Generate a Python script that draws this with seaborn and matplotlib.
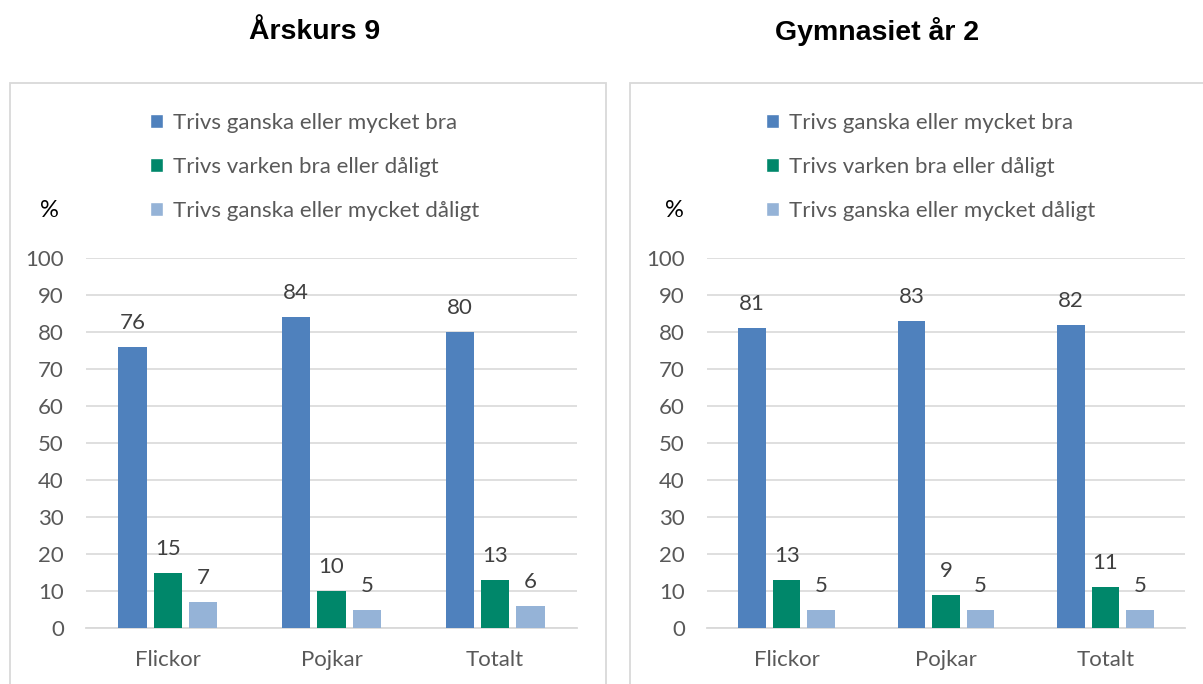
import matplotlib.pyplot as plt
import pandas as pd
import seaborn as sns
from matplotlib.patches import Patch, Rectangle

# Data
grupper = ["Flickor", "Pojkar", "Totalt"]
svar = [
    "Trivs ganska eller mycket bra",
    "Trivs varken bra eller dåligt",
    "Trivs ganska eller mycket dåligt",
]
farger = ["#4F81BD", "#00876A", "#95B3D7"]

# Årskurs 9
ak9_bra = [76, 84, 80]
ak9_varken = [15, 10, 13]
ak9_daligt = [7, 5, 6]

# Gymnasiet år 2
gy2_bra = [81, 83, 82]
gy2_varken = [13, 9, 11]
gy2_daligt = [5, 5, 5]


def long_df(bra, varken, daligt):
    rows = []
    for s, vals in zip(svar, [bra, varken, daligt]):
        for g, v in zip(grupper, vals):
            rows.append({"grupp": g, "svar": s, "andel": v})
    return pd.DataFrame(rows)


sns.set_theme(style="white")
plt.rcParams["font.family"] = ["Lato", "DejaVu Sans"]

W, H = 1203, 684
fig = plt.figure(figsize=(W / 100, H / 100), dpi=100)
fig.patch.set_facecolor("white")

panels = [
    dict(title="Årskurs 9", df=long_df(ak9_bra, ak9_varken, ak9_daligt),
         ax=(86, 577), box=(10, 606), title_x=315, pct_x=49, leg_x=150),
    dict(title="Gymnasiet år 2", df=long_df(gy2_bra, gy2_varken, gy2_daligt),
         ax=(707, 1185), box=(630, 1215), title_x=877, pct_x=674, leg_x=766),
]

grid_col = "#D9D9D9"
text_col = "#595959"
fs = 16

for p in panels:
    x0, x1 = p["ax"]
    ytop, ybot = 258, 628
    ax = fig.add_axes([x0 / W, 1 - ybot / H, (x1 - x0) / W, (ybot - ytop) / H])
    ax.set_facecolor("none")

    # frame around the panel
    bx0, bx1 = p["box"]
    fig.add_artist(Rectangle((bx0 / W, -0.05), (bx1 - bx0) / W, 1.05 - 82.5 / H,
                             transform=fig.transFigure, fill=False,
                             edgecolor=grid_col, lw=1.3))

    sns.barplot(data=p["df"], x="grupp", y="andel", hue="svar", order=grupper,
                hue_order=svar, palette=farger, saturation=1, width=0.65, gap=0.2,
                legend=False, ax=ax, zorder=3, linewidth=0)

    for cont in ax.containers:
        ax.bar_label(cont, padding=10, fontsize=fs, color="#404040")

    ax.set_ylim(0, 100)
    ax.set_yticks(range(0, 101, 10))
    ax.set_xlim(-0.5, 2.5)
    ax.yaxis.grid(True, color=grid_col, lw=1.2, zorder=0)
    ax.set_axisbelow(True)
    for side in ["left", "right", "top"]:
        ax.spines[side].set_visible(False)
    ax.spines["bottom"].set_color(grid_col)
    ax.spines["bottom"].set_linewidth(1.3)
    ax.tick_params(axis="y", length=0, pad=16, labelsize=fs, labelcolor=text_col)
    ax.tick_params(axis="x", length=0, pad=16, labelsize=fs, labelcolor=text_col)
    ax.set_xlabel("")
    ax.set_ylabel("")

    handles = [Patch(facecolor=c, label=s) for c, s in zip(farger, svar)]
    lx = (p["leg_x"] - x0) / (x1 - x0)
    ly = (ybot - 167) / (ybot - ytop)
    ax.legend(handles=handles, loc="center left", bbox_to_anchor=(lx, ly),
              frameon=False, fontsize=fs, labelcolor=text_col,
              handlelength=0.6, handleheight=0.6, handletextpad=0.45,
              labelspacing=1.08, borderpad=0, borderaxespad=0)

    fig.text(p["pct_x"] / W, 1 - 210 / H, "%", ha="center", va="center",
             fontsize=17, color="black")
    fig.text(p["title_x"] / W, 1 - 32 / H, p["title"], ha="center", va="center",
             fontsize=20.5, fontweight="bold", family="Liberation Sans", color="black")

fig.savefig("out.png", dpi=100)
